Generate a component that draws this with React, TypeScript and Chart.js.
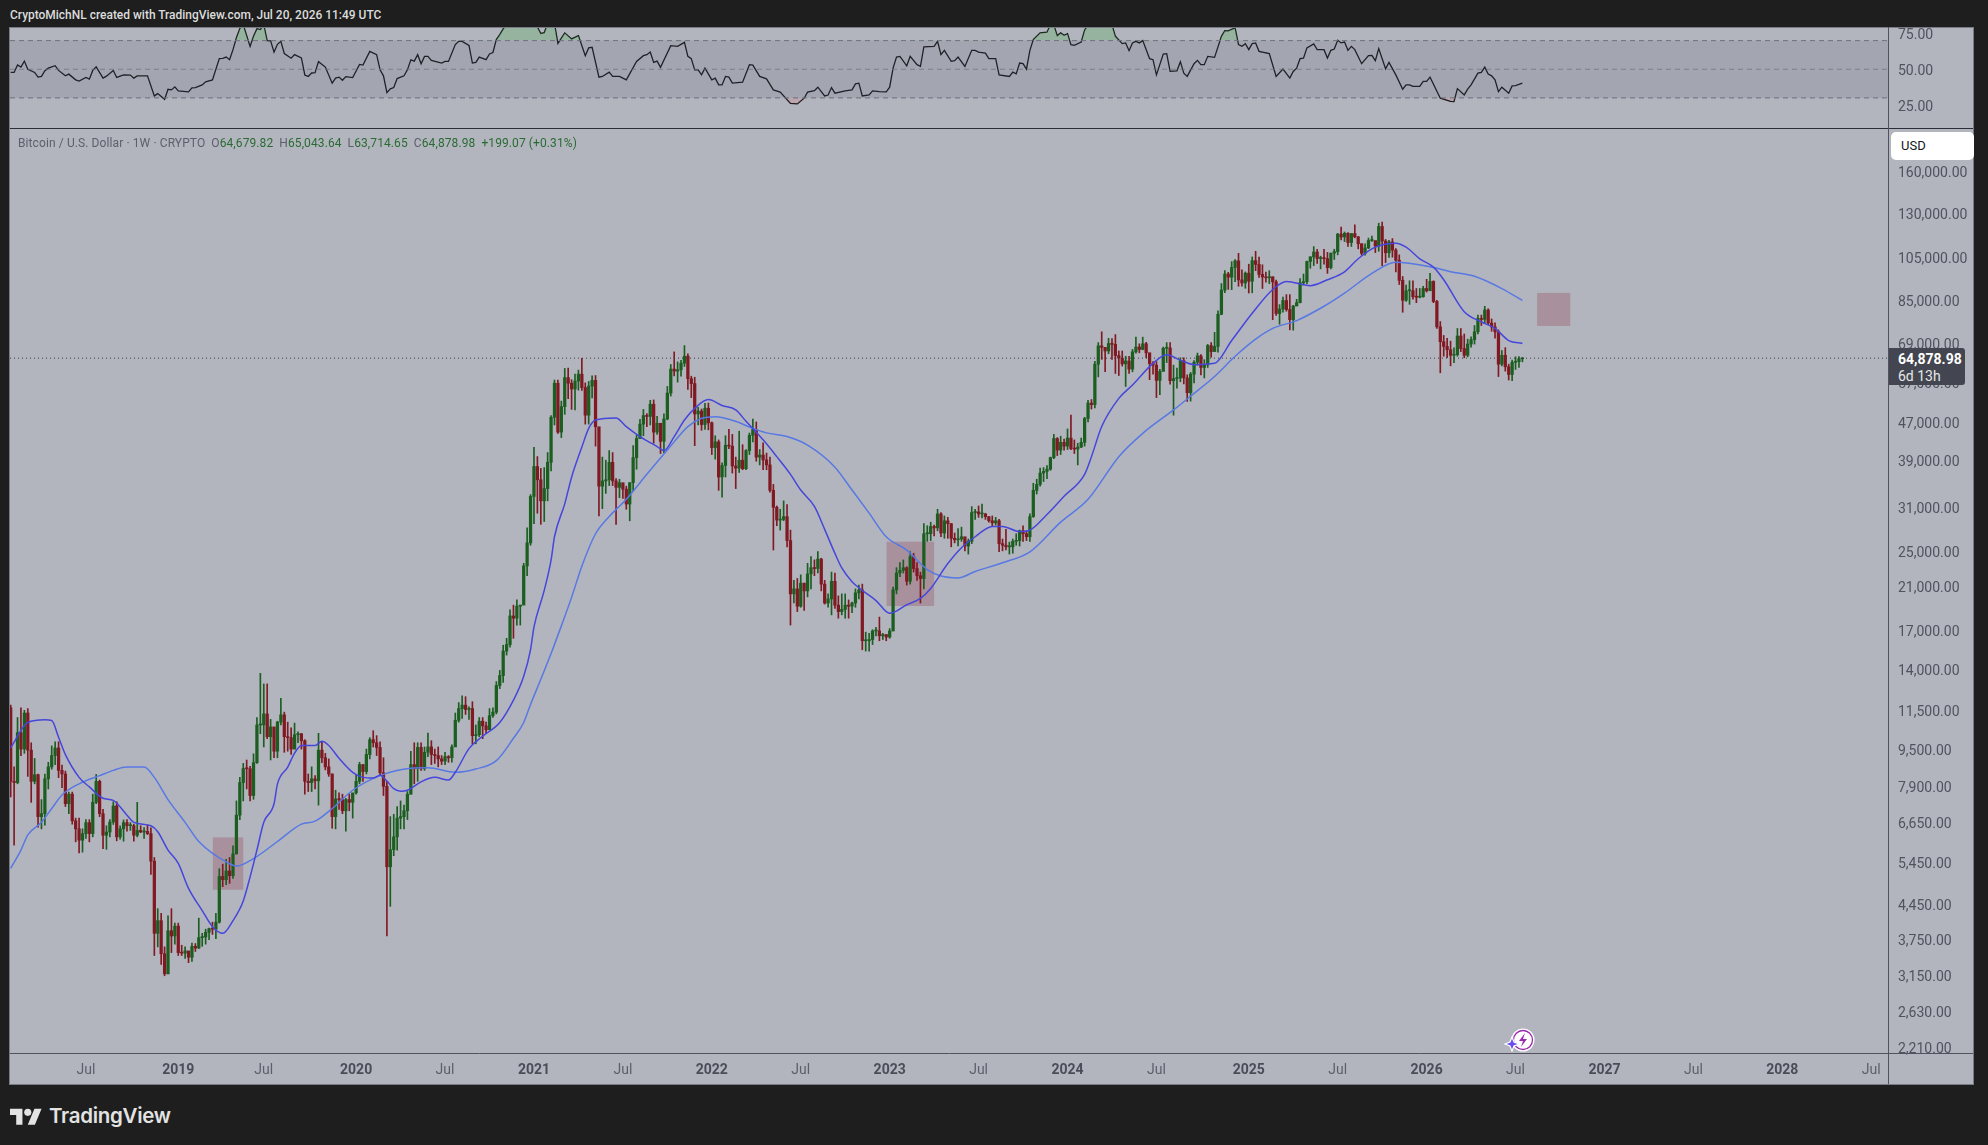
import React, { useEffect, useRef } from "react";
import { Chart, registerables } from "chart.js";

Chart.register(...registerables);

const firstOpen = 11750;
const closes = [
  8200,8150,10400,9600,11450,9550,8200,8470,6900,7000,
  8300,8800,9300,9650,8650,8500,7350,7700,6760,6500,
  6150,6350,6700,6350,7400,8200,7000,6300,6400,6720,
  7270,6250,6500,6700,6600,6600,6300,6450,6400,6420,
  6350,5550,3900,4150,3530,3200,3950,3850,4040,3550,
  3540,3580,3470,3660,3630,3820,3830,3920,3990,3980,
  4120,5150,5070,5290,5170,5750,6950,8150,8730,8720,
  7650,8980,10800,10800,11400,10200,10700,9500,10950,11350,
  10200,10150,9600,10300,10350,10000,8200,8150,8300,8220,
  9550,9200,8800,8500,6900,7520,7500,7100,7500,7400,
  7750,8200,8900,8600,9350,10050,9900,9680,8550,8000,
  5400,5870,6250,6850,6900,7100,7700,8900,8720,9680,
  8720,9450,9700,9350,9300,9150,9050,9250,9200,9700,
  11050,11700,11900,11650,11700,10250,10300,11000,10750,10550,
  11300,11500,13100,13750,15500,16000,18400,18200,19300,19400,
  23500,26300,33000,38200,35800,32300,34300,39000,48600,57400,
  45200,51200,59000,57400,55800,58000,60000,56200,49100,56600,
  58200,46400,34700,35600,35800,39000,35600,34500,35300,34200,
  31800,35300,39900,43800,47000,49000,48800,51800,45200,47200,
  43200,48200,54700,61500,60900,61300,63300,65500,58700,57300,
  49400,50100,46900,50800,47300,41900,43100,36300,38400,42400,
  42200,38300,37900,39400,37800,41300,44500,45800,40000,40400,
  39450,38500,34000,31300,29400,29500,29900,26600,20500,21000,
  19300,21600,20800,22600,23300,23200,24300,21500,19600,20000,
  21800,19400,18800,19000,19400,19300,19600,20600,20900,16300,
  16300,16400,17100,17100,16700,16800,16600,17100,20900,22700,
  23000,23300,21800,24600,23200,22400,22100,27500,27500,28500,
  28300,30300,27600,29300,28900,26900,26700,26800,27100,25900,
  26500,30500,30600,30300,30300,29900,29300,29000,29300,26200,
  26000,25800,25800,26500,26600,27900,27500,27100,29900,34000,
  35000,37000,37300,37700,39900,43800,41400,43000,42200,43900,
  41700,41600,42000,43000,48300,52100,51700,63000,68900,68400,
  67200,69700,69400,65700,64900,63100,64000,61500,66900,68500,
  67700,69600,66600,63200,62700,58200,60800,68100,68200,58100,
  58700,58900,64100,58900,54800,60000,63600,65600,62000,62800,
  69000,67000,68700,80400,90500,97900,96400,101100,104400,95100,
  93700,98300,94500,104500,102600,97700,96500,96100,96600,94200,
  80700,82500,86000,82300,78300,83700,85100,93800,94300,104100,
  106400,109000,105600,105700,105500,101000,108400,109200,119000,117300,
  119400,114200,119300,117400,113500,108300,111200,115300,115300,112200,
  123500,115000,108600,114500,110000,104700,94900,86100,90200,90200,
  87600,87400,87600,91200,90200,94400,85600,75600,70300,68700,
  67600,65800,66000,72300,68000,65800,69500,71000,73800,78800,
  78400,82100,77000,75600,73800,63000,65800,62200,59900,63600,
  63800,64679.82,64878.98,
];
const highs = [
  11900,8800,11200,11750,11600,11700,9900,9170,8500,7500,
  8500,9000,9750,9950,9950,8880,8620,7780,7780,6850,
  6850,6500,6800,6800,7700,8480,8250,7150,6600,6800,
  7420,7420,6600,6790,6800,6700,6650,7400,6600,6540,
  6620,6530,5650,4400,4300,3650,4250,4400,4100,4100,
  3680,3650,3560,3720,3710,4200,3900,3980,4000,4120,
  4300,5350,5470,5600,5650,5980,7450,8360,8950,9100,
  8820,9380,11200,13900,13200,13200,11100,10650,11000,12300,
  11500,10950,10650,10900,10450,10350,10050,8500,8800,8430,
  10370,9950,9400,9150,8500,7850,7750,7700,7550,7700,
  7650,8450,9000,8900,9600,10150,10500,10250,9950,9200,
  8200,6900,6980,7250,7450,7300,7800,9500,9900,9900,
  9900,9700,10380,10000,9600,9700,9300,9450,9300,9800,
  11450,12050,12450,12400,11800,12100,10800,11200,11200,10950,
  11700,11750,13350,14100,15950,16500,18950,19400,19900,19400,
  23800,28300,33300,41950,40100,37850,38000,40900,49000,58300,
  58300,52600,61700,61800,58400,60000,61200,64800,57500,57900,
  59500,59600,45700,40000,39400,41300,40900,36000,35900,35100,
  34700,35300,42300,44500,48100,50500,49500,52800,52900,48800,
  45100,49400,56500,62900,66900,63700,64200,69000,66300,59400,
  59100,51000,50600,52000,52100,47500,44400,43500,38900,44400,
  45800,44700,40000,45400,42500,41500,45000,48200,47500,41500,
  42900,40800,40000,35000,31500,31000,32300,31700,28000,21900,
  22100,22500,21600,23800,24600,24200,25200,24400,21900,20500,
  22800,22700,20300,20500,20500,19900,19700,21000,21400,21500,
  17000,16900,17200,17400,18300,16900,16800,17300,21200,23300,
  23900,24200,23400,25200,25000,23900,22800,28900,28600,29100,
  28700,31000,30500,30000,29800,28900,27600,28200,28400,27000,
  26800,31400,31000,31500,31800,30400,29900,30000,29800,29500,
  26800,28100,26400,26800,27500,28000,28600,27900,30300,35200,
  35900,37900,38000,38400,40000,44700,44000,44300,43700,45900,
  49100,43500,42800,43900,48600,52800,53000,63900,70000,73800,
  68100,71500,71400,72800,67200,67200,65500,65500,67700,71900,
  69600,71900,70100,66500,63800,63800,61400,68500,70000,70000,
  62700,61800,65000,65000,59800,60500,64100,66500,66000,64400,
  69400,70000,73600,81800,93400,99600,98700,104000,105000,108300,
  99900,98900,102700,106400,109400,106400,102400,98800,99500,96500,
  95000,84300,87400,88500,88500,84000,86500,95700,97900,104300,
  106600,111900,110400,106800,110500,108800,108500,110500,119400,123200,
  120200,119800,119300,124500,117600,113500,113400,116700,117900,113900,
  125500,126200,115900,115400,116400,110800,107500,96700,92700,94700,
  94700,91200,91200,92200,95400,98200,94700,86100,77600,72500,
  71500,70500,68200,75000,75000,73000,71200,72000,76100,80100,
  80100,83600,82600,78600,77100,74500,67300,68300,63000,64300,
  65300,65400,65043.64,
];
const lows = [
  7600,6000,8100,9300,9400,8400,7400,8100,6550,6500,
  6620,7900,8700,8900,8350,7950,7250,7000,6650,6100,
  5780,5800,6200,6100,6250,7350,6900,5900,5880,6250,
  6640,6130,6180,6120,6430,6450,6120,6250,6380,6200,
  6320,5200,3500,3650,3350,3170,3200,3550,3700,3500,
  3500,3450,3380,3400,3570,3620,3660,3700,3780,3880,
  3800,4100,4900,4950,4980,5100,5750,6800,7450,7900,
  7450,7510,8950,10350,9700,10100,9100,9200,9200,10800,
  9450,9500,9350,9600,9900,9600,7700,7800,7800,7900,
  7300,8980,8670,8400,6520,6500,7150,7000,6430,7100,
  6850,7700,8100,8200,8500,9150,9700,9300,8450,7650,
  3850,4450,5700,5860,6500,6500,6800,7700,8100,8200,
  8650,8650,9250,8900,8950,8800,8900,8900,9000,9000,
  9900,10950,11150,11370,11100,9850,9850,10200,10100,10350,
  10550,11200,11400,12900,13300,15200,15800,16500,17600,17600,
  21200,22400,26000,28900,30400,28800,29200,32300,37400,46800,
  44900,44000,49300,53200,50500,50400,55500,55400,47000,47000,
  53400,42200,30000,31100,33500,34800,34800,28800,32800,32700,
  31000,29300,33900,37700,43800,44400,46400,46800,42800,44700,
  40700,40900,48000,53900,59500,57700,59400,62300,55700,53500,
  42300,46800,45600,45800,45700,40500,39600,34000,32900,36300,
  41700,37000,34300,37100,37600,37600,40500,43100,39200,38500,
  37600,37600,33700,25400,28600,28000,29300,25800,17600,19600,
  18800,19200,18900,20200,21000,22400,22700,20800,19500,19200,
  18500,19100,18200,18500,18200,18200,18700,19200,20000,15600,
  15500,15500,16000,16700,16300,16400,16300,16500,17100,20500,
  22300,22700,21400,21500,22800,21900,19600,21000,26500,26600,
  27200,27900,27100,26900,26900,25800,26300,25900,26500,25300,
  24900,26200,29500,29800,29700,29500,29100,28600,28700,25200,
  25300,25400,24900,25000,26000,25900,26500,26600,26500,29800,
  33400,34700,35500,36000,37500,39700,40300,40500,41400,41500,
  41500,40700,38500,41900,42200,47500,50600,50900,59200,64500,
  60700,66300,64500,60200,59600,62400,56500,60200,60700,66500,
  66600,67600,65000,58400,60000,53500,54300,64000,63500,57100,
  49100,56000,57800,57200,52500,52600,57500,62700,59800,58900,
  62000,65200,67500,66800,80200,89400,90800,90700,94300,92200,
  92200,91300,89200,89300,99500,96300,91200,94100,93400,78300,
  80000,76600,81200,81600,74500,74400,83900,85000,92800,93400,
  100700,102000,103100,100400,102700,98200,100400,105100,107500,115700,
  114700,112000,112000,116800,110700,107300,107300,110800,114800,108700,
  109400,102000,103500,106100,106300,98900,93000,81200,85600,84400,
  86600,85100,87100,87400,89600,90500,85100,75000,60400,65500,
  65000,62500,63500,65500,67000,65000,65300,68500,69500,73000,
  76100,77100,76400,74000,71500,59300,62500,60900,58300,58100,
  61400,62000,63714.65,
];

const fastWeeks = [0,5,10,12,14,16,20,23,27,30,34,36,41,43,46,49,52,56,59,62,65,68,70,72,74,77,78,81,83,85,89,91,93,96,100,103,106,108,110,112,114,116,120,124,128,130,134,138,143,147,150,152,153,156,158,159,162,164,167,169,171,177,180,184,189,191,194,197,200,204,208,212,215,220,224,228,231,235,238,241,243,246,249,253,257,262,266,269,274,278,282,287,290,295,298,303,308,314,316,319,324,328,334,338,342,346,352,357,363,369,373,380,385,390,394,399,405,408,412,416,419,425,430,434,438,442];
const fastValues = [9660,10930,11080,11040,10170,9340,8360,7980,7550,7470,6950,6710,6600,6410,5860,5490,4860,4360,4030,3900,4150,4570,5140,5860,6710,7350,8100,8790,9410,9770,9770,9970,9770,9180,8570,8360,8330,8450,8210,7910,7810,7850,8180,8360,8250,8570,9620,10220,10930,12190,13700,15610,17430,20850,24180,27100,31830,36260,42000,46030,47950,48450,46440,44220,42110,41300,44220,47950,50770,52980,51470,50370,47650,43520,40090,36770,34050,31430,28100,24980,23270,21760,20850,19840,18640,19440,20050,21050,23770,25690,27100,28510,28510,27800,28000,30220,33040,36770,40090,46440,53290,56910,63260,65980,64270,62860,63260,70710,80790,90760,94380,92470,95190,98920,105460,111610,113820,111610,105460,101230,95190,81390,77460,75040,70710,69700];
const slowWeeks = [0,3,5,9,12,15,20,26,30,34,39,42,46,51,55,64,66,71,78,85,89,94,100,108,117,122,130,136,142,147,150,152,155,158,161,164,167,171,175,180,186,192,198,202,206,212,216,221,227,233,241,246,251,256,262,268,272,277,282,290,298,307,315,324,331,340,345,352,358,364,369,376,384,390,398,405,415,421,428,436,442];
const slowValues = [5360,5860,6310,6710,7180,7670,8100,8430,8650,8790,8790,8360,7500,6710,6110,5480,5420,5620,6110,6650,6750,7180,7850,8430,8740,8760,8570,8710,9070,10120,10930,11940,13500,15310,17530,20150,23470,27500,29920,32540,36770,41400,46440,48350,48750,47650,46340,45030,44220,42410,38080,34050,30420,27100,25380,23070,22360,22160,22870,23870,25180,29110,32540,40090,44930,50370,53890,59330,65470,71220,75040,77960,83610,89150,98210,103650,101440,99020,96800,91160,86020];

const rsiWeeks = [
  0,1,2,3,4,5,7,8,9,10,
  11,13,14,16,17,19,20,22,23,24,
  25,27,28,30,31,33,35,36,37,40,
  42,43,45,46,47,48,49,52,53,54,
  56,57,59,61,62,63,64,65,66,67,
  68,70,71,72,73,74,75,76,77,78,
  79,80,82,83,85,86,87,88,89,90,
  92,94,95,96,97,98,100,102,103,105,
  107,108,109,110,111,112,113,115,116,117,
  118,119,120,121,122,123,126,127,128,130,
  131,132,134,135,136,137,139,140,141,142,
  143,144,146,148,150,152,153,155,156,157,
  158,159,160,162,164,166,168,169,170,172,
  173,175,176,178,180,183,185,186,187,188,
  189,190,193,195,197,198,199,200,201,202,
  203,205,206,207,208,209,210,211,214,216,
  217,219,221,223,225,228,230,232,233,235,
  236,238,239,240,241,244,246,247,248,249,
  251,252,254,256,257,258,259,260,262,263,
  265,266,267,270,271,272,273,275,276,277,
  279,281,282,283,285,286,288,289,292,293,
  294,295,296,297,298,299,301,303,304,305,
  306,307,308,309,310,311,313,314,315,318,
  322,323,325,326,327,328,329,330,331,333,
  334,335,337,338,339,341,342,343,344,346,
  347,348,349,350,352,354,355,356,358,359,
  360,361,362,363,364,365,368,370,372,374,
  375,376,377,378,379,381,382,384,385,386,
  387,388,389,390,391,392,393,395,397,398,
  399,400,402,403,405,407,408,409,410,412,
  413,414,415,418,421,422,423,425,426,427,
  429,430,431,432,433,434,435,436,438,439,
  440,442,
];
const rsiValues = [
  47.8,47.8,53,51.5,55.7,50,47.8,44.5,45,49,
  50.8,52.5,49.2,45.4,46.6,42.6,41.7,44.3,43.1,49.2,
  51.7,43.8,45.2,49.2,44.3,46.1,45.9,43.8,45.4,45.4,
  31.4,33,29,36,35.6,37.7,34.9,34.2,37,37.2,
  39.1,41.2,42.6,57.4,57.6,58.5,56.7,63.7,72,78.4,
  81,66,73,78.2,77.7,81,70,69.8,62,67.4,
  69.5,61,57.7,60.2,57.9,46,45,47.4,47.6,55.3,
  51.5,40.3,43.8,44.5,42.3,44.9,44.2,53.4,52.9,62.5,
  60.2,49.6,45.4,33.7,36.3,37.2,43.5,45.4,49.6,56.6,
  55.7,60.2,53.8,59,59,56.2,54.3,55.5,55.5,67.2,
  69.5,69.5,66.7,54.3,54.8,58.5,56.7,60.7,61.7,70.7,
  74.2,78.2,84,85,88,92,84,75,75.5,82,
  88,82,68,75.4,71.2,73.5,59.5,64.9,65.3,44.5,
  45,48,45,45,42.6,55.5,59.5,60.2,62,54.8,
  55.7,51.3,66.5,66,68.8,59,57.4,49.6,49.6,46.1,
  50.8,42.6,43.8,39.1,39.1,45,44.5,40.3,41,53.2,
  52.9,45,43.3,35.6,34,26.2,25.8,29.8,34,35.1,
  37.5,31.4,32,37.2,33.3,34.9,35.6,39.8,40.3,31.4,
  32.1,34.9,34.4,34.2,37.5,50.8,58.5,59,52.4,59,
  53.2,52,65.6,66,69.5,60.2,63.2,55.5,56,58.5,
  52,63.2,63.2,62,61.3,57.4,57.4,46.1,45,48,
  46.8,54.3,53.9,50.1,63.2,70.7,75.4,75.9,81,81,
  73.5,75.4,73.7,74.9,67.2,66.7,69,77.3,81,86,
  81,73,67.9,68.4,63,68.4,69.5,68.4,70,57.4,
  56.7,46.1,60.6,60.9,48.5,48.9,55.3,47.3,45,53.9,
  56.2,53.2,53.2,59,58.3,73,77,76.8,78.9,67.2,
  66,67.9,63.7,67.9,68.4,62.5,60.9,45,50.1,43.8,
  48.5,50.8,57.4,57.8,64.9,67.7,63.7,63.7,57.8,63.2,
  64.1,70.2,68.4,69,63.2,66,63.7,53.9,59.5,59.7,
  56,64.4,50.3,54.8,46.1,36.1,39.1,39.1,38,38,
  41.5,41.5,44.5,29.8,27.6,27.4,36.5,32.1,36.1,39.1,
  47.3,47.8,51.5,46.6,45.4,42.6,34.4,37.5,33.3,38.4,
  38.6,40.3,
];

const priceTicks = [160000,130000,105000,85000,69000,57000,47000,39000,31000,25000,21000,17000,14000,11500,9500,7900,6650,5450,4450,3750,3150,2630,2210];
const rsiTicks = [75, 50, 25];
const rsiLevels = [70, 50, 30];
const timeTickWeeks = [22,49,74,101,127,153,179,205,231,257,283,309,335,362,388,414,440,466,492,518,544];
const timeTickLabels = ["Jul","2019","Jul","2020","Jul","2021","Jul","2022","Jul","2023","Jul","2024","Jul","2025","Jul","2026","Jul","2027","Jul","2028","Jul"];
// week start, week end, upper price, lower price
const zoneWeeksFrom = [59.1, 256.1, 446.3];
const zoneWeeksTo = [68, 270, 456];
const zoneTops = [6235, 26450, 89250];
const zoneBottoms = [4825, 19320, 75950];

const WEEK_MIN = -0.2;
const WEEK_MAX = 548.9;
const PRICE_MIN = 2173;
const PRICE_MAX = 199850;
const RSI_MIN = 9;
const RSI_MAX = 79.5;
const UP = "#1b5e20";
const DOWN = "#801922";
const AXIS_TEXT = "#50535e";
const AXIS_FONT = "Roboto";

const pts = (xs: number[], ys: number[]) => xs.map((x, i) => ({ x, y: ys[i] }));
const opens = closes.map((_, i) => (i === 0 ? firstOpen : closes[i - 1]));
const candleColors = closes.map((c, i) => (c >= opens[i] ? UP : DOWN));
const lastClose = closes[closes.length - 1];
const isMonthTick = (ctx: any) => timeTickLabels[timeTickWeeks.indexOf(ctx?.tick?.value)] === "Jul";

const zonesPlugin = {
  id: "zones",
  beforeDatasetsDraw(chart: any) {
    const { ctx, scales } = chart;
    ctx.save();
    ctx.fillStyle = "rgba(138,41,54,0.25)";
    zoneWeeksFrom.forEach((from, i) => {
      const x0 = scales.x.getPixelForValue(from);
      const x1 = scales.x.getPixelForValue(zoneWeeksTo[i]);
      const y0 = scales.y.getPixelForValue(zoneTops[i]);
      const y1 = scales.y.getPixelForValue(zoneBottoms[i]);
      ctx.fillRect(x0, y0, x1 - x0, y1 - y0);
    });
    ctx.restore();
  },
};

const noPadding = (axis: any) => {
  axis.paddingTop = 0;
  axis.paddingBottom = 0;
  axis.paddingLeft = 0;
  axis.paddingRight = 0;
};

const fixedWidth = (axis: any) => {
  axis.width = 85;
  noPadding(axis);
};

export default function App() {
  const rsiRef = useRef<HTMLCanvasElement>(null);
  const mainRef = useRef<HTMLCanvasElement>(null);

  useEffect(() => {
    const rsi = new Chart(rsiRef.current!, {
      type: "line",
      data: {
        datasets: [
          {
            data: pts([WEEK_MIN, WEEK_MAX], [rsiLevels[0], rsiLevels[0]]),
            borderColor: "#6f727c",
            borderWidth: 1,
            borderDash: [5, 4],
            pointRadius: 0,
            fill: "+1",
            backgroundColor: "rgba(84,88,104,0.16)",
          },
          {
            data: pts([WEEK_MIN, WEEK_MAX], [rsiLevels[2], rsiLevels[2]]),
            borderColor: "#6f727c",
            borderWidth: 1,
            borderDash: [5, 4],
            pointRadius: 0,
          },
          {
            data: pts([WEEK_MIN, WEEK_MAX], [rsiLevels[1], rsiLevels[1]]),
            borderColor: "rgba(111,114,124,0.7)",
            borderWidth: 1,
            borderDash: [5, 4],
            pointRadius: 0,
          },
          {
            data: pts(rsiWeeks, rsiValues),
            borderColor: "rgba(76,175,80,0)",
            borderWidth: 0,
            pointRadius: 0,
            fill: { target: { value: rsiLevels[0] }, above: "rgba(76,175,80,0.28)", below: "transparent" },
          },
          {
            data: pts(rsiWeeks, rsiValues),
            borderColor: "rgba(242,54,69,0)",
            borderWidth: 0,
            pointRadius: 0,
            fill: { target: { value: rsiLevels[2] }, above: "transparent", below: "rgba(242,54,69,0.12)" },
          },
          {
            data: pts(rsiWeeks, rsiValues),
            borderColor: "#16171b",
            borderWidth: 1.3,
            pointRadius: 0,
            tension: 0,
          },
        ],
      },
      options: {
        animation: false,
        responsive: false,
        devicePixelRatio: 1,
        layout: { padding: 0, autoPadding: false },
        plugins: { legend: { display: false }, tooltip: { enabled: false } },
        scales: {
          x: { type: "linear", display: false, offset: false, min: WEEK_MIN, max: WEEK_MAX },
          y: {
            type: "linear",
            position: "right",
            bounds: "data",
            min: RSI_MIN,
            max: RSI_MAX,
            afterFit: fixedWidth,
            afterBuildTicks: (axis: any) => {
              axis.ticks = rsiTicks.map((value) => ({ value }));
            },
            grid: { display: false, drawTicks: false },
            border: { display: false },
            ticks: {
              autoSkip: false,
              padding: 10,
              labelOffset: 2,
              color: AXIS_TEXT,
              font: { family: AXIS_FONT, size: 14 },
              callback: (v: any) => Number(v).toFixed(2),
            },
          },
        },
      },
    } as any);

    const main = new Chart(mainRef.current!, {
      type: "bar",
      plugins: [zonesPlugin],
      data: {
        datasets: [
          {
            type: "line",
            data: pts(fastWeeks, fastValues),
            borderColor: "#4646dc",
            borderWidth: 1.5,
            pointRadius: 0,
            cubicInterpolationMode: "monotone",
            order: 0,
          },
          {
            type: "line",
            data: pts(slowWeeks, slowValues),
            borderColor: "#5878e4",
            borderWidth: 1.5,
            pointRadius: 0,
            cubicInterpolationMode: "monotone",
            order: 1,
          },
          {
            type: "line",
            data: pts([WEEK_MIN, WEEK_MAX], [lastClose, lastClose]),
            borderColor: "#3a3c44",
            borderWidth: 1,
            borderDash: [1, 3],
            pointRadius: 0,
            order: 2,
          },
          {
            data: closes.map((c, i) => ({ x: i, y: [opens[i], c] })),
            backgroundColor: candleColors,
            barThickness: 2.6,
            minBarLength: 1,
            grouped: false,
            order: 3,
          },
          {
            data: closes.map((_, i) => ({ x: i, y: [lows[i], highs[i]] })),
            backgroundColor: candleColors,
            barThickness: 1,
            grouped: false,
            order: 4,
          },
        ],
      },
      options: {
        animation: false,
        responsive: false,
        devicePixelRatio: 1,
        layout: { padding: 0, autoPadding: false },
        plugins: { legend: { display: false }, tooltip: { enabled: false } },
        scales: {
          x: {
            type: "linear",
            position: "bottom",
            offset: false,
            min: WEEK_MIN,
            max: WEEK_MAX,
            afterFit: (axis: any) => {
              axis.height = 31;
              noPadding(axis);
            },
            afterBuildTicks: (axis: any) => {
              axis.ticks = timeTickWeeks.map((value) => ({ value }));
            },
            grid: { display: false, drawTicks: false },
            border: { display: true, color: "#50535e", width: 1 },
            ticks: {
              autoSkip: false,
              maxRotation: 0,
              padding: 9,
              color: (ctx: any) => (isMonthTick(ctx) ? "#5d606b" : "#4a4d58"),
              font: (ctx: any) => ({
                family: AXIS_FONT,
                size: 14,
                weight: isMonthTick(ctx) ? "normal" : "bold",
              }),
              callback: (v: any) => timeTickLabels[timeTickWeeks.indexOf(Number(v))],
            },
          },
          y: {
            type: "logarithmic",
            position: "right",
            bounds: "data",
            min: PRICE_MIN,
            max: PRICE_MAX,
            afterFit: fixedWidth,
            afterBuildTicks: (axis: any) => {
              axis.ticks = priceTicks.map((value) => ({ value }));
            },
            grid: { display: false, drawTicks: false },
            border: { display: false },
            ticks: {
              autoSkip: false,
              padding: 10,
              color: AXIS_TEXT,
              font: { family: AXIS_FONT, size: 14 },
              callback: (v: any) => Number(v).toLocaleString("en-US", { minimumFractionDigits: 2, maximumFractionDigits: 2 }),
            },
          },
        },
      },
    } as any);

    return () => {
      rsi.destroy();
      main.destroy();
    };
  }, []);

  const abs = (left: number, top: number, width: number, height: number, extra: React.CSSProperties = {}): React.CSSProperties => ({
    position: "absolute",
    left,
    top,
    width,
    height,
    ...extra,
  });

  return (
    <div style={{ position: "fixed", left: 0, top: 0, width: 1988, height: 1145, background: "#1e1e1e", overflow: "hidden", fontFamily: AXIS_FONT }}>
      <div style={abs(10, 27, 1963, 1057, { background: "#b2b5be" })} />
      <canvas ref={rsiRef} width={1963} height={101} style={abs(10, 27, 1963, 101)} />
      <canvas ref={mainRef} width={1963} height={956} style={abs(10, 128, 1963, 956)} />

      <div style={abs(10, 27, 1963, 1, { background: "#787b86" })} />
      <div style={abs(9, 27, 1, 1058, { background: "#787b86" })} />
      <div style={abs(10, 1084, 1963, 1, { background: "#787b86" })} />
      <div style={abs(1973, 27, 1, 1058, { background: "#787b86" })} />
      <div style={abs(10, 128, 1963, 1, { background: "#2a2e39" })} />
      <div style={abs(1888, 27, 1, 1057, { background: "#50535e" })} />
      <div style={abs(1888, 1053, 85, 1, { background: "#50535e" })} />

      <div style={{ position: "absolute", left: 10, top: 7, color: "#dcdcdc", fontSize: 13, fontWeight: 500, whiteSpace: "nowrap", transform: "scaleX(0.92)", transformOrigin: "left center" }}>
        CryptoMichNL created with TradingView.com, Jul 20, 2026 11:49 UTC
      </div>

      <div style={{ position: "absolute", left: 18, top: 136, fontSize: 12, letterSpacing: 0.1, whiteSpace: "nowrap", color: "#5d606b", display: "flex", gap: 6 }}>
        <span>Bitcoin / U.S. Dollar · 1W · CRYPTO</span>
        <span style={{ color: "#5d606b" }}>O<span style={{ color: "#2a6b33" }}>64,679.82</span></span>
        <span>H<span style={{ color: "#2a6b33" }}>65,043.64</span></span>
        <span>L<span style={{ color: "#2a6b33" }}>63,714.65</span></span>
        <span>C<span style={{ color: "#2a6b33" }}>64,878.98</span></span>
        <span style={{ color: "#2a6b33" }}>+199.07 (+0.31%)</span>
      </div>

      <div style={abs(1891, 132, 83, 28, { background: "#ffffff", borderRadius: 5, color: "#131722", fontSize: 13, lineHeight: "28px", paddingLeft: 10, boxSizing: "border-box" })}>
        USD
      </div>

      <div style={abs(1889, 341, 76, 41, { background: "#434651", borderRadius: "0 3px 3px 0", color: "#fff", fontSize: 14, lineHeight: "17px", paddingLeft: 9, paddingTop: 3, boxSizing: "border-box", top: 348, height: 37 })}>
        <div style={{ fontWeight: 700 }}>64,878.98</div>
        <div style={{ color: "#e6e6e8" }}>6d 13h</div>
      </div>

      <svg style={abs(1500, 1026, 36, 28)} viewBox="0 0 36 28">
        <circle cx="23" cy="14" r="11.5" fill="#fff" />
        <circle cx="23" cy="14" r="9.5" fill="#fff" stroke="#9c27b0" strokeWidth="1.3" />
        <path d="M25 7 L19 15 L23 15 L21 21 L27 13 L23 13 Z" fill="#9c27b0" />
        <path d="M12 11 L14 16 L19 18 L14 20 L12 25 L10 20 L5 18 L10 16 Z" fill="#6a4df0" stroke="#fff" strokeWidth="1.2" />
      </svg>

      <svg style={abs(10, 1105, 32, 20)} viewBox="0 0 36 22">
        <path d="M14 22H7V11H0V4h14v18zM28 22h-8l7.5-18h8L28 22z" fill="#e3e3e3" />
        <circle cx="20" cy="8" r="4" fill="#e3e3e3" />
      </svg>
      <div style={{ position: "absolute", left: 49, top: 1103, color: "#e3e3e3", fontSize: 20.5, fontWeight: 600, fontFamily: "Inter", letterSpacing: -0.3, whiteSpace: "nowrap" }}>
        TradingView
      </div>
    </div>
  );
}
